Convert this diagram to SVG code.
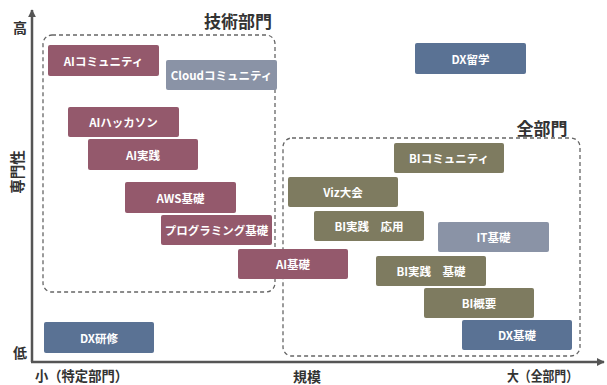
<svg xmlns="http://www.w3.org/2000/svg" width="607" height="385" viewBox="0 0 607 385">
<defs>
<style>
.box rect{stroke:none}
.box text{fill:#fff;font-family:"Noto Sans CJK JP","Liberation Sans",sans-serif;font-size:11.5px;font-weight:bold;text-anchor:middle;dominant-baseline:central}
.m rect{fill:#94596c}
.g rect{fill:#8a93a6}
.o rect{fill:#7e7b60}
.b rect{fill:#5a7294}
.lbl{fill:#333;font-family:"Noto Sans CJK JP",sans-serif;font-weight:bold}
.grp{fill:none;stroke:#666;stroke-width:1.3;stroke-dasharray:4 3}
</style>
<marker id="ah" viewBox="0 0 10 10" refX="9" refY="5" markerWidth="3.2" markerHeight="3.2" orient="auto"><path d="M0,0 L10,5 L0,10 z" fill="#555"/></marker>
</defs>
<rect width="607" height="385" fill="#fff"/>
<g id="axes">
<line x1="32" y1="362" x2="32" y2="10" stroke="#555" stroke-width="2.5" marker-end="url(#ah)"/>
<line x1="31" y1="362" x2="604" y2="362" stroke="#555" stroke-width="2.5" marker-end="url(#ah)"/>
<text class="lbl" x="20" y="33" font-size="14" text-anchor="middle">高</text>
<text class="lbl" x="20" y="358" font-size="14" text-anchor="middle">低</text>
<text class="lbl" font-size="14.5" text-anchor="middle" transform="translate(23,172) rotate(-90)">専門性</text>
<text class="lbl" x="35" y="381" font-size="14" textLength="93" lengthAdjust="spacingAndGlyphs">小（特定部門）</text>
<text class="lbl" x="307" y="382" font-size="14" text-anchor="middle">規模</text>
<text class="lbl" x="507" y="381" font-size="14" textLength="71" lengthAdjust="spacingAndGlyphs">大（全部門）</text>
</g>
<g id="group-tech">
<rect class="grp" x="43" y="35" width="232" height="257" rx="9"/>
<text class="lbl" x="238" y="28" font-size="17" text-anchor="middle">技術部門</text>
</g>
<g id="group-all">
<rect class="grp" x="283" y="138" width="297" height="218" rx="9"/>
<text class="lbl" x="542" y="135" font-size="17" text-anchor="middle">全部門</text>
</g>
<g id="connectors"></g>
<g id="n-ai-community" class="box m"><rect x="48" y="45" width="111" height="31" rx="2"/><text x="103.5" y="60.5">AIコミュニティ</text></g>
<g id="n-cloud-community" class="box g"><rect x="166" y="60" width="111" height="30" rx="2"/><text x="221.5" y="75">Cloudコミュニティ</text></g>
<g id="n-ai-hackathon" class="box m"><rect x="68" y="107" width="111" height="30" rx="2"/><text x="123.5" y="122">AIハッカソン</text></g>
<g id="n-ai-practice" class="box m"><rect x="88" y="139" width="110" height="31" rx="2"/><text x="143" y="154.5">AI実践</text></g>
<g id="n-aws" class="box m"><rect x="125" y="182" width="111" height="31" rx="2"/><text x="180.5" y="197.5">AWS基礎</text></g>
<g id="n-programming" class="box m"><rect x="161" y="215" width="111" height="30" rx="2"/><text x="216.5" y="230">プログラミング基礎</text></g>
<g id="n-ai-basic" class="box m"><rect x="238" y="249" width="110" height="30" rx="2"/><text x="293" y="264">AI基礎</text></g>
<g id="n-dx-training" class="box b"><rect x="44" y="322" width="110" height="31" rx="2"/><text x="99" y="337.5">DX研修</text></g>
<g id="n-dx-study" class="box b"><rect x="415" y="43" width="111" height="31" rx="2"/><text x="470.5" y="58.5">DX留学</text></g>
<g id="n-bi-community" class="box o"><rect x="394" y="143" width="110" height="30" rx="2"/><text x="449" y="158">BIコミュニティ</text></g>
<g id="n-viz" class="box o"><rect x="288" y="177" width="110" height="30" rx="2"/><text x="343" y="192">Viz大会</text></g>
<g id="n-bi-applied" class="box o"><rect x="314" y="211" width="110" height="30" rx="2"/><text x="369" y="226">BI実践　応用</text></g>
<g id="n-it-basic" class="box g"><rect x="438" y="222" width="111" height="30" rx="2"/><text x="493.5" y="237">IT基礎</text></g>
<g id="n-bi-basic" class="box o"><rect x="376" y="256" width="110" height="30" rx="2"/><text x="431" y="271">BI実践　基礎</text></g>
<g id="n-bi-overview" class="box o"><rect x="424" y="288" width="110" height="30" rx="2"/><text x="479" y="303">BI概要</text></g>
<g id="n-dx-basic" class="box b"><rect x="462" y="320" width="110" height="30" rx="2"/><text x="517" y="335">DX基礎</text></g>
</svg>
